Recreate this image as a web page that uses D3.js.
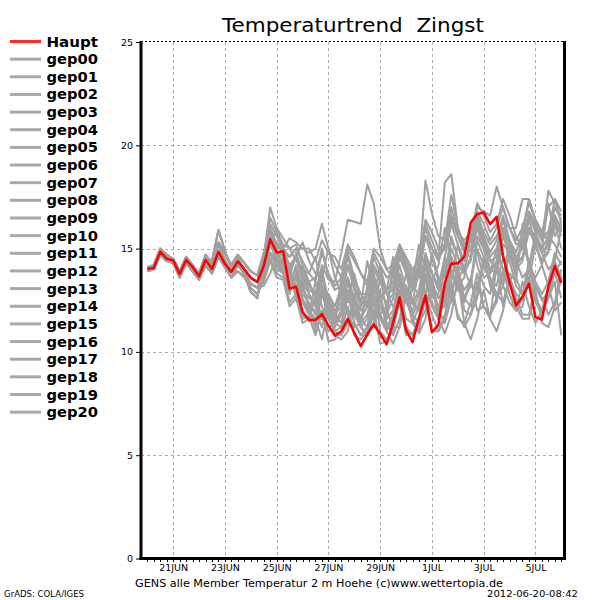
<!DOCTYPE html>
<html><head><meta charset="utf-8">
<script src="https://cdn.jsdelivr.net/npm/d3@7/dist/d3.min.js"></script>
<style>body{margin:0;background:#fff}svg{display:block}</style>
</head><body><svg id="c" width="600" height="600"></svg>
<script>
// ---- data ----
const title = "Temperaturtrend  Zingst";
const footer = "GENS alle Member Temperatur 2 m Hoehe (c)www.wettertopia.de";
const credit = "GrADS: COLA/IGES";
const stamp = "2012-06-20-08:42";
const startTime = "2012-06-20T00:00:00Z";
const stepHours = 6;
const yTicks = [0, 5, 10, 15, 20, 25];
const xTickDates = ["2012-06-21","2012-06-23","2012-06-25","2012-06-27","2012-06-29","2012-07-01","2012-07-03","2012-07-05"];
const xTickLabels = ["21JUN","23JUN","25JUN","27JUN","29JUN","1JUL","3JUL","5JUL"];

const Haupt = [14.03,14.06,14.85,14.51,14.43,13.77,14.45,14.11,13.66,14.45,14.01,14.84,14.27,13.87,14.39,14.00,13.58,13.38,14.16,15.45,14.81,14.87,13.06,13.16,11.93,11.55,11.55,11.83,11.28,10.79,11.00,11.60,10.92,10.28,10.84,11.33,10.87,10.37,11.41,12.64,11.05,10.47,11.65,12.73,10.95,11.31,13.35,14.27,14.29,14.61,16.26,16.67,16.75,16.18,16.54,14.64,13.35,12.25,12.67,13.30,11.68,11.57,13.16,14.16,13.35];
const gep00 = [14.0,14.1,14.9,14.6,14.4,13.8,14.5,14.1,13.7,14.5,14.0,14.9,14.3,13.9,14.5,14.0,13.6,13.4, 14.2,15.3,14.9,14.6,13.4,14.0,12.8,12.4,11.8,13.2,12.0,11.5,12.0,13.6,12.4,11.6,12.2,13.8,12.5,11.8,12.6,14.2,13.0,12.3,13.0,14.8,13.8,13.0,13.8,15.6,14.6,13.8,14.5,16.2,15.4,14.6,15.0,16.4,15.2,14.2,14.6,16.0,15.1,14.4,14.9,16.3,15.6];
const gep01 = [14.1,14.2,15.0,14.7,14.5,13.9,14.6,14.2,13.8,14.7,14.3,15.3,14.8,14.2,14.7,14.3,13.9,13.7, 14.5,16.0,15.2,14.8,14.0,14.6,13.6,13.0,12.8,14.2,13.5,13.4,14.8,16.4,16.3,16.2,18.1,17.2,15.0,14.0,13.6,15.0,14.1,13.2,12.8,14.4,13.4,12.6,13.0,14.6,13.8,13.0,13.5,15.0,14.2,13.4,13.2,14.6,13.6,12.8,12.5,14.0,13.2,12.5,12.9,14.4,13.6];
const gep02 = [13.9,14.0,14.7,14.4,14.3,13.6,14.3,13.9,13.5,14.2,13.8,14.6,14.1,13.6,14.2,13.8,13.3,13.1, 13.6,14.5,13.8,13.6,12.4,12.8,11.6,11.7,10.8,12.0,10.5,10.6,11.0,12.2,10.8,10.6,11.0,12.0,10.4,10.5,11.2,12.4,10.8,10.9,11.3,12.6,11.0,11.0,11.8,13.4,11.6,11.4,12.4,13.8,12.2,11.8,12.6,14.0,12.8,12.0,12.2,13.6,12.4,11.9,12.6,13.9,12.6];
const gep03 = [14.0,14.1,14.9,14.6,14.4,13.8,14.5,14.1,13.7,14.5,14.0,14.9,14.3,13.9,14.5,14.0,13.6,13.4, 14.4,15.2,16.0,15.0,14.2,14.6,15.3,14.4,13.8,13.6,15.0,13.6,12.8,12.4,13.8,12.4,12.2,12.6,14.2,12.8,12.2,12.3,13.8,12.4,12.0,12.6,14.6,13.4,12.6,13.4,15.2,14.0,13.2,13.0,14.2,13.6,12.8,12.4,13.6,12.6,11.8,11.8,13.2,12.6,11.8,12.4,14.0];
const gep04 = [14.0,14.1,14.8,14.5,14.3,13.7,14.5,14.0,13.6,14.6,14.4,15.9,14.9,14.0,14.4,13.7,12.9,12.6, 14.6,17.0,16.0,15.5,15.0,15.2,14.2,13.4,12.6,13.8,12.4,11.8,11.4,12.8,11.8,11.2,11.6,13.4,12.2,11.6,12.0,13.6,12.6,12.0,12.8,14.6,13.8,13.2,14.6,16.2,15.2,14.4,15.0,16.8,16.2,15.4,16.0,17.0,16.0,15.2,15.4,16.8,16.0,15.4,15.8,17.0,16.4];
const gep05 = [13.9,14.0,14.7,14.4,14.3,13.6,14.3,13.9,13.5,14.2,13.8,14.6,14.1,13.6,14.2,13.8,13.3,13.1, 13.8,14.4,15.0,14.2,14.0,12.8,13.2,12.2,12.0,11.2,12.6,11.0,10.8,11.4,12.8,11.6,11.2,11.2,12.6,11.4,10.8,11.6,13.2,11.8,11.4,12.0,13.6,12.0,11.4,12.6,14.2,12.6,12.2,12.8,14.6,13.2,12.6,13.6,15.4,14.4,13.6,14.0,15.8,14.8,14.0,14.4,16.0];
const gep06 = [14.1,14.2,15.0,14.7,14.5,13.9,14.6,14.2,13.8,14.7,14.3,15.3,14.8,14.2,14.7,14.3,13.9,13.7, 14.8,15.8,15.0,15.0,14.6,15.0,15.0,14.8,15.0,16.2,15.0,14.2,13.6,14.8,13.6,12.8,12.4,13.6,12.8,12.4,12.8,14.6,13.8,13.0,14.0,15.6,15.0,14.4,15.2,17.0,15.6,14.8,14.6,16.0,15.0,14.0,13.8,15.2,14.8,14.2,14.6,15.8,15.4,14.8,15.2,16.4,16.0];
const gep07 = [14.0,14.1,14.9,14.6,14.4,13.8,14.5,14.1,13.7,14.5,14.0,14.9,14.3,13.9,14.5,14.0,13.6,13.4, 14.0,15.2,14.4,13.8,12.8,13.8,12.6,12.0,11.4,13.0,11.6,11.0,11.2,12.8,11.4,10.8,11.2,12.8,11.6,11.0,11.6,13.4,12.4,11.8,12.4,14.2,13.0,12.0,12.2,14.0,13.0,12.6,13.4,15.6,15.0,14.0,14.2,15.8,14.4,13.2,12.8,14.4,13.4,12.8,13.4,14.8,14.2];
const gep08 = [14.0,14.0,14.8,14.4,14.4,13.8,14.4,14.1,13.8,14.5,14.2,15.2,14.5,13.6,13.9,13.6,13.1,12.8, 13.6,14.8,14.0,13.8,14.2,12.8,11.8,11.5,12.8,11.6,11.2,11.4,13.6,12.6,11.8,12.2,14.4,13.0,12.6,13.0,14.6,13.4,12.8,13.4,15.2,14.0,13.4,14.2,16.0,14.4,13.6,14.0,15.6,14.2,13.2,12.8,14.4,13.2,12.4,12.0,13.4,12.2,11.4,12.0,13.2,12.0,12.4];
const gep09 = [14.0,14.1,14.9,14.6,14.4,13.8,14.5,14.1,13.7,14.5,14.0,14.9,14.3,13.9,14.5,14.0,13.6,13.4, 14.6,15.6,15.3,15.0,14.0,14.6,13.8,13.4,13.6,15.0,13.6,13.0,13.2,14.6,13.4,12.8,12.8,14.2,13.6,12.8,13.0,14.8,14.0,13.4,14.0,18.3,16.7,15.6,15.4,17.6,16.0,15.2,15.6,17.2,16.6,15.8,16.2,17.4,16.6,15.6,15.0,16.6,15.8,15.0,15.6,17.0,16.6];
const gep10 = [13.9,14.0,14.7,14.4,14.3,13.6,14.3,13.9,13.5,14.2,13.8,14.6,14.1,13.6,14.2,13.8,13.3,13.1, 13.4,14.4,13.6,13.5,12.2,12.6,11.4,11.6,11.0,11.8,11.0,11.2,11.8,13.4,12.0,11.4,11.8,13.0,11.0,10.6,11.0,12.6,11.2,10.8,11.6,13.6,12.2,11.6,12.6,14.6,13.4,12.6,13.2,15.4,14.6,13.8,14.4,16.0,15.2,14.6,15.0,16.4,15.2,14.4,14.8,16.2,15.0];
const gep11 = [14.1,14.2,15.0,14.7,14.5,13.9,14.6,14.2,13.8,14.7,14.3,15.3,14.8,14.2,14.7,14.3,13.9,13.7, 14.6,16.5,15.8,15.2,15.0,14.4,14.0,13.8,14.6,13.0,12.8,12.2,13.2,11.8,12.0,11.4,13.2,11.6,12.2,11.6,14.4,12.4,13.2,12.4,14.0,12.8,12.4,11.8,14.4,12.4,13.2,12.4,13.6,12.0,12.2,11.6,14.2,12.2,13.8,13.4,16.2,14.2,15.6,15.0,17.2,15.6,16.2];
const gep12 = [14.0,14.1,14.8,14.5,14.3,13.7,14.5,14.0,13.6,14.6,14.4,15.9,14.9,14.0,14.4,13.7,12.9,12.6, 14.4,15.6,14.8,14.4,13.2,14.2,13.0,12.6,12.4,13.8,12.6,12.0,12.4,14.2,13.2,12.4,12.2,13.6,11.8,11.2,11.4,13.0,11.6,11.4,12.2,13.8,12.8,12.2,13.0,15.0,14.2,13.8,14.6,16.4,15.6,14.8,15.4,16.6,15.4,14.8,15.8,17.4,16.4,15.6,15.8,17.4,16.8];
const gep13 = [14.0,14.1,14.9,14.6,14.4,13.8,14.5,14.1,13.7,14.5,14.0,14.9,14.3,13.9,14.5,14.0,13.6,13.4, 14.2,15.4,14.6,14.2,13.6,14.8,13.8,13.2,12.8,14.0,12.4,11.8,12.2,13.6,12.6,12.0,12.4,14.0,13.4,12.8,13.2,15.0,14.2,13.6,14.2,16.0,15.0,14.6,18.2,18.6,16.0,15.0,15.4,16.8,15.6,14.4,14.0,15.6,14.8,14.0,14.4,16.0,15.6,15.0,15.0,16.6,15.8];
const gep14 = [13.9,14.0,14.7,14.4,14.3,13.6,14.3,13.9,13.5,14.2,13.8,14.6,14.1,13.6,14.2,13.8,13.3,13.1, 13.2,13.8,14.6,13.9,13.8,12.6,13.4,12.0,11.6,10.6,12.2,10.8,10.6,11.0,12.6,11.2,10.8,11.4,13.0,11.0,10.4,11.2,12.8,11.4,10.9,11.6,13.4,11.6,10.9,11.8,13.6,11.4,10.6,11.6,13.0,11.6,11.0,12.0,13.6,12.2,11.6,11.6,13.0,11.4,11.2,12.2,13.6];
const gep15 = [14.1,14.2,15.0,14.7,14.5,13.9,14.6,14.2,13.8,14.7,14.3,15.3,14.8,14.2,14.7,14.3,13.9,13.7, 14.8,16.2,15.6,15.0,15.5,15.3,15.0,15.0,14.4,15.4,14.8,14.6,14.0,15.2,14.6,13.8,13.2,14.8,14.2,13.6,13.8,15.2,14.4,13.8,14.6,16.2,15.4,14.6,15.0,16.6,15.8,15.4,15.8,17.0,16.8,16.6,18.0,17.0,16.0,15.4,16.0,17.2,16.4,15.8,17.0,17.4,16.2];
const gep16 = [14.0,14.0,14.8,14.4,14.4,13.8,14.4,14.1,13.8,14.5,14.2,15.2,14.5,13.6,13.9,13.6,13.1,12.8, 13.4,14.8,14.2,13.8,13.0,13.6,14.2,12.8,12.2,11.6,12.8,11.4,11.2,11.6,12.4,11.2,10.9,11.8,13.6,12.0,11.2,11.2,13.0,12.4,12.0,12.8,14.8,13.6,12.4,12.8,14.2,12.0,11.8,12.6,14.4,13.4,12.6,13.2,14.8,13.6,12.8,13.4,15.2,14.2,13.2,13.8,14.4];
const gep17 = [14.0,14.1,14.9,14.6,14.4,13.8,14.5,14.1,13.7,14.5,14.0,14.9,14.3,13.9,14.5,14.0,13.6,13.4, 14.2,15.4,14.7,14.4,13.8,14.6,13.4,12.8,12.2,13.6,12.2,11.8,12.8,14.2,13.0,12.2,12.8,14.6,13.8,13.0,13.4,15.0,14.0,13.2,13.6,15.6,14.6,13.6,13.6,15.4,14.6,14.0,14.4,16.2,15.2,14.4,14.6,16.0,15.0,14.4,15.2,16.8,16.2,15.4,17.8,17.2,16.8];
const gep18 = [13.9,14.0,14.7,14.4,14.3,13.6,14.3,13.9,13.5,14.2,13.8,14.6,14.1,13.6,14.2,13.8,13.3,13.1, 13.8,14.8,14.4,14.0,13.0,13.6,12.4,12.0,11.2,12.8,11.8,11.4,11.8,13.0,11.4,10.8,10.8,12.4,11.8,11.2,11.8,13.8,12.6,11.6,11.0,12.8,11.8,11.0,11.6,13.2,11.8,11.2,11.8,13.4,12.2,11.8,12.4,14.0,12.8,12.0,12.6,14.2,12.6,12.0,12.6,13.4,10.8];
const gep19 = [14.1,14.2,15.0,14.7,14.5,13.9,14.6,14.2,13.8,14.7,14.3,15.3,14.8,14.2,14.7,14.3,13.9,13.7, 14.6,15.8,15.2,14.8,14.6,15.0,14.4,13.8,13.4,14.8,13.8,13.2,13.6,15.0,14.4,13.8,13.4,15.0,14.6,14.0,14.2,15.2,14.6,14.0,14.4,16.4,15.8,15.0,15.2,16.4,15.6,15.0,15.4,16.6,15.8,15.2,15.6,16.4,16.0,16.0,17.4,17.4,16.4,15.8,15.4,16.6,16.0];
const gep20 = [14.0,14.1,14.8,14.5,14.3,13.7,14.5,14.0,13.6,14.6,14.4,15.9,14.9,14.0,14.4,13.7,12.9,12.6, 14.0,15.4,14.6,14.0,14.0,13.2,12.4,11.8,13.4,12.2,11.6,11.6,13.0,11.8,11.2,11.4,13.0,12.4,11.8,12.2,14.0,13.2,12.4,13.0,14.4,13.4,12.6,12.8,14.6,13.8,13.2,13.6,15.8,14.8,13.6,13.8,15.0,14.0,13.4,14.0,15.4,14.2,13.6,14.2,15.6,15.2,14.6];

const members = [gep00,gep01,gep02,gep03,gep04,gep05,gep06,gep07,gep08,gep09,gep10,gep11,gep12,gep13,gep14,gep15,gep16,gep17,gep18,gep19,gep20];
const memberNames = ["gep00","gep01","gep02","gep03","gep04","gep05","gep06","gep07","gep08","gep09","gep10","gep11","gep12","gep13","gep14","gep15","gep16","gep17","gep18","gep19","gep20"];

// ---- drawing ----
const svg = d3.select("#c");
const FONT = "'DejaVu Sans', sans-serif";
const GRAY = "#a0a0a0";
const RED = "#ff0000";

const t0 = new Date(startTime);
const timeAt = i => new Date(t0.getTime() + i * stepHours * 3600 * 1000);
const tEnd = timeAt(Haupt.length - 1);

const x = d3.scaleUtc().domain([t0, tEnd]).range([147.3, 561.3]);
const y = d3.scaleLinear().domain([0, 25]).range([558.5, 42]);

const L = 141, R = 564.5, T = 42, B = 558.5;

// gridlines
const grid = svg.append("g");
grid.selectAll("line.h").data(yTicks.filter(v => v > 0 && v < 25)).join("line")
  .attr("x1", L).attr("x2", R).attr("y1", d => Math.round(y(d)) + 0.5).attr("y2", d => Math.round(y(d)) + 0.5)
  .attr("stroke", "#aaaaaa").attr("stroke-width", 1).attr("stroke-dasharray", "3,3");
const tickDates = xTickDates.map(s => new Date(s + "T00:00:00Z"));
grid.selectAll("line.v").data(tickDates).join("line")
  .attr("x1", d => Math.round(x(d)) + 0.5).attr("x2", d => Math.round(x(d)) + 0.5)
  .attr("y1", T).attr("y2", B)
  .attr("stroke", "#aaaaaa").attr("stroke-width", 1).attr("stroke-dasharray", "3,3");

// top dotted border
svg.append("line").attr("x1", L).attr("x2", R).attr("y1", 41.5).attr("y2", 41.5)
  .attr("stroke", "#000").attr("stroke-width", 1).attr("stroke-dasharray", "2,2");

// lines
const line = d3.line().x((d, i) => x(timeAt(i))).y(d => y(d));
svg.append("g").selectAll("path").data(members).join("path")
  .attr("d", line).attr("fill", "none").attr("stroke", GRAY).attr("stroke-width", 2)
  .attr("stroke-linejoin", "round");
svg.append("path").datum(Haupt).attr("d", line).attr("fill", "none")
  .attr("stroke", RED).attr("stroke-width", 2.5).attr("stroke-linejoin", "round");

// axes (frame)
svg.append("line").attr("x1", L).attr("x2", L).attr("y1", T - 1).attr("y2", B + 1.5).attr("stroke", "#000").attr("stroke-width", 3);
svg.append("line").attr("x1", R).attr("x2", R).attr("y1", T - 1).attr("y2", B + 1.5).attr("stroke", "#000").attr("stroke-width", 3);
svg.append("line").attr("x1", L - 1.5).attr("x2", R + 1.5).attr("y1", B).attr("y2", B).attr("stroke", "#000").attr("stroke-width", 3);

// y axis ticks & labels
const yAxis = d3.axisLeft(y).tickValues(yTicks).tickSize(4).tickPadding(3).tickFormat(d3.format("d"));
const gy = svg.append("g").attr("transform", `translate(${L - 1},0)`).call(yAxis);
gy.select(".domain").remove();
gy.selectAll("text").attr("font-family", FONT).attr("font-size", 9.5).attr("fill", "#000");
gy.selectAll("line").attr("stroke", "#000");

// x axis labels
const xAxis = d3.axisBottom(x).tickValues(tickDates).tickSize(0).tickPadding(5)
  .tickFormat((d, i) => xTickLabels[i]);
const gx = svg.append("g").attr("transform", `translate(0,${B + 1})`).call(xAxis);
gx.select(".domain").remove();
gx.selectAll("text").attr("font-family", FONT).attr("font-size", 9.5).attr("fill", "#000");

// small 6h ticks under bottom axis
svg.append("g").selectAll("line").data(d3.range(Haupt.length)).join("line")
  .attr("x1", i => Math.round(x(timeAt(i))) + 0.5).attr("x2", i => Math.round(x(timeAt(i))) + 0.5)
  .attr("y1", B + 1.5).attr("y2", B + 3.5).attr("stroke", "#000").attr("stroke-width", 1);

// title
svg.append("text").attr("x", 222).attr("y", 32).text(title)
  .attr("font-family", FONT).attr("font-size", 19).attr("fill", "#000")
  .attr("textLength", 262).attr("lengthAdjust", "spacingAndGlyphs").style("white-space", "pre");

// legend
const legendNames = ["Haupt"].concat(memberNames);
const lg = svg.append("g");
legendNames.forEach((name, i) => {
  const cy = 41.5 + i * 17.65;
  lg.append("line").attr("x1", 10).attr("x2", 41).attr("y1", cy).attr("y2", cy)
    .attr("stroke", i === 0 ? "#ff2a2a" : "#a8a8a8").attr("stroke-width", 3);
  lg.append("text").attr("x", 46.5).attr("y", cy + 5).text(name)
    .attr("font-family", FONT).attr("font-size", 13.5).attr("font-weight", "bold").attr("fill", "#000")
    .attr("textLength", 51.5).attr("lengthAdjust", "spacingAndGlyphs");
});

// footer texts
svg.append("text").attr("x", 135).attr("y", 587).text(footer)
  .attr("font-family", FONT).attr("font-size", 10).attr("fill", "#000")
  .attr("textLength", 368).attr("lengthAdjust", "spacingAndGlyphs");
svg.append("text").attr("x", 4).attr("y", 597).text(credit)
  .attr("font-family", FONT).attr("font-size", 8.5).attr("fill", "#000")
  .attr("textLength", 80).attr("lengthAdjust", "spacingAndGlyphs");
svg.append("text").attr("x", 487).attr("y", 597).text(stamp)
  .attr("font-family", FONT).attr("font-size", 9).attr("fill", "#000")
  .attr("textLength", 91).attr("lengthAdjust", "spacingAndGlyphs");
</script>
</body></html>
